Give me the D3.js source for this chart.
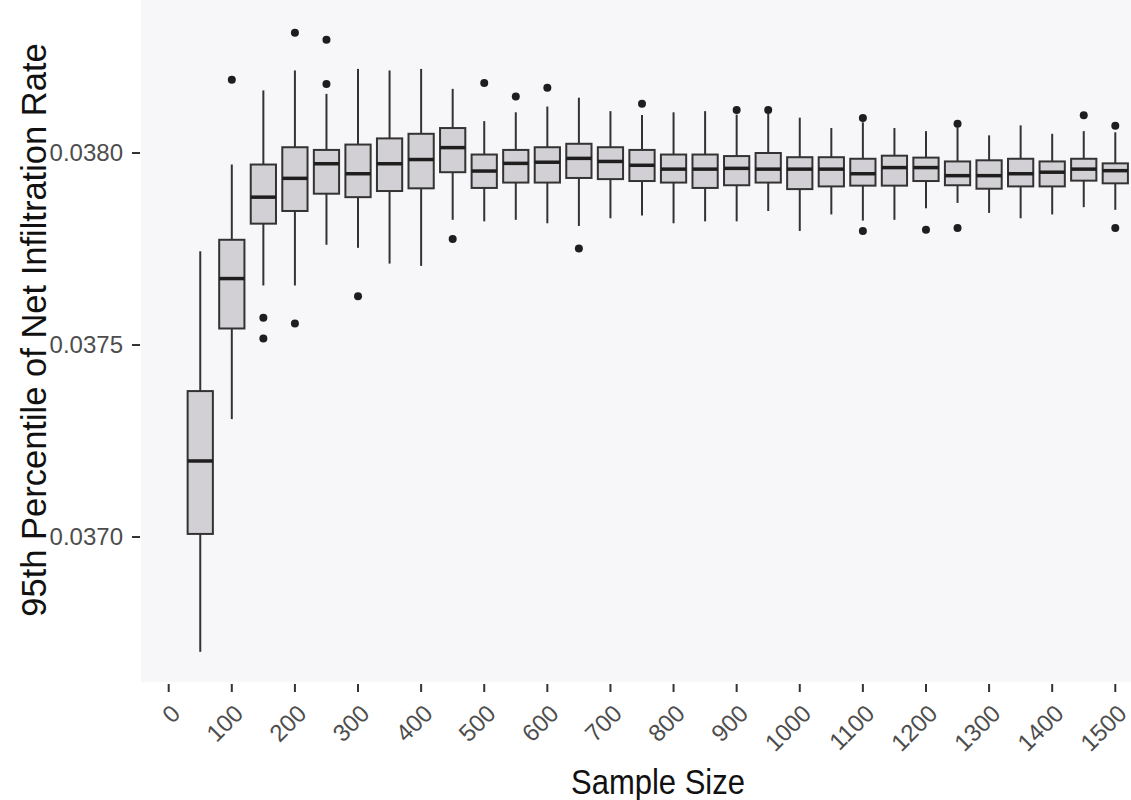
<!DOCTYPE html>
<html><head><meta charset="utf-8">
<script src="https://cdn.jsdelivr.net/npm/d3@7"></script>
<style>body{margin:0;background:#fff}svg{display:block}text{font-family:"Liberation Sans",Arial,sans-serif}</style>
</head><body><svg id="c" width="1131" height="800"></svg>
<script>
const sampleSizes = [50,100,150,200,250,300,350,400,450,500,550,600,650,700,750,800,850,900,950,1000,1050,1100,1150,1200,1250,1300,1350,1400,1450,1500];
const lowerWhisker = [0.036701,0.037307,0.037655,0.037655,0.037761,0.037753,0.037712,0.037706,0.037826,0.037822,0.037826,0.037817,0.037810,0.037830,0.037837,0.037817,0.037822,0.037822,0.037849,0.037797,0.037840,0.037824,0.037826,0.037856,0.037870,0.037844,0.037830,0.037840,0.037859,0.037852];
const q1Values = [0.037008,0.037543,0.037816,0.037849,0.037894,0.037885,0.037901,0.037908,0.037950,0.037909,0.037923,0.037923,0.037935,0.037932,0.037927,0.037923,0.037909,0.037916,0.037923,0.037906,0.037913,0.037915,0.037915,0.037927,0.037916,0.037907,0.037913,0.037913,0.037928,0.037921];
const medianValues = [0.037198,0.037673,0.037885,0.037934,0.037972,0.037946,0.037972,0.037983,0.038014,0.037953,0.037973,0.037976,0.037986,0.037978,0.037968,0.037958,0.037958,0.037960,0.037958,0.037958,0.037958,0.037946,0.037962,0.037962,0.037941,0.037941,0.037946,0.037950,0.037958,0.037954];
const q3Values = [0.037380,0.037774,0.037970,0.038015,0.038008,0.038022,0.038038,0.038050,0.038065,0.037996,0.038008,0.038015,0.038024,0.038015,0.038008,0.037996,0.037996,0.037992,0.038000,0.037989,0.037989,0.037985,0.037993,0.037988,0.037978,0.037981,0.037985,0.037978,0.037985,0.037973];
const upperWhisker = [0.037744,0.037970,0.038163,0.038215,0.038154,0.038219,0.038215,0.038219,0.038167,0.038083,0.038106,0.038121,0.038144,0.038109,0.038099,0.038106,0.038109,0.038100,0.038102,0.038092,0.038065,0.038080,0.038065,0.038057,0.038067,0.038046,0.038072,0.038050,0.038057,0.038054];
const outlierValues = [[],[0.038191],[0.037571,0.037517],[0.038313,0.037556],[0.038295,0.038180],[0.037627],[],[],[0.037776],[0.038182],[0.038147],[0.038170],[0.037751],[],[0.038128],[],[],[0.038112],[0.038112],[],[],[0.038091,0.037797],[],[0.037800],[0.038076,0.037805],[],[],[],[0.038098],[0.038071,0.037805]];
const xTicks = [0,100,200,300,400,500,600,700,800,900,1000,1100,1200,1300,1400,1500];
const yTicks = [0.0370,0.0375,0.0380];
const xTitle = "Sample Size";
const yTitle = "95th Percentile of Net Infiltration Rate";

const svg = d3.select("#c");
const x = d3.scaleLinear().domain([0,1500]).range([168.7,1115.3]);
const y = d3.scaleLinear().domain([0.0370,0.0380]).range([537,153]);
const halfW = 20; // data units

svg.append("rect").attr("x",141).attr("y",0).attr("width",990).attr("height",682).attr("fill","#f7f7fa");

const data = sampleSizes.map((s,i)=>({s,lo:lowerWhisker[i],q1:q1Values[i],med:medianValues[i],q3:q3Values[i],hi:upperWhisker[i],out:outlierValues[i]}));
const stroke = "#333333";
const g = svg.append("g");
const box = g.selectAll("g.box").data(data).join("g").attr("class","box");
box.append("line").attr("x1",d=>x(d.s)).attr("x2",d=>x(d.s)).attr("y1",d=>y(d.hi)).attr("y2",d=>y(d.q3)).attr("stroke",stroke).attr("stroke-width",2);
box.append("line").attr("x1",d=>x(d.s)).attr("x2",d=>x(d.s)).attr("y1",d=>y(d.q1)).attr("y2",d=>y(d.lo)).attr("stroke",stroke).attr("stroke-width",2);
box.append("rect").attr("x",d=>x(d.s-halfW)).attr("width",d=>x(d.s+halfW)-x(d.s-halfW))
  .attr("y",d=>y(d.q3)).attr("height",d=>y(d.q1)-y(d.q3))
  .attr("fill","#d2d0d4").attr("stroke",stroke).attr("stroke-width",2);
box.append("line").attr("x1",d=>x(d.s-halfW)).attr("x2",d=>x(d.s+halfW)).attr("y1",d=>y(d.med)).attr("y2",d=>y(d.med)).attr("stroke","#1e1e1e").attr("stroke-width",3.5);
box.selectAll("circle").data(d=>d.out.map(v=>({s:d.s,v}))).join("circle")
  .attr("cx",d=>x(d.s)).attr("cy",d=>y(d.v)).attr("r",4).attr("fill","#1e1e1e");

// y axis
const yAxis = svg.append("g");
yAxis.selectAll("line").data(yTicks).join("line").attr("x1",132).attr("x2",140).attr("y1",d=>y(d)).attr("y2",d=>y(d)).attr("stroke","#333").attr("stroke-width",2);
yAxis.selectAll("text").data(yTicks).join("text").attr("x",123).attr("y",d=>y(d)).attr("dy","0.35em").attr("text-anchor","end")
  .attr("font-size",24).attr("fill","#4d4d4d").text(d=>d3.format(".4f")(d));

// x axis
const xAxis = svg.append("g");
xAxis.selectAll("line").data(xTicks).join("line").attr("x1",d=>x(d)).attr("x2",d=>x(d)).attr("y1",684).attr("y2",692).attr("stroke","#333").attr("stroke-width",2);
xAxis.selectAll("text").data(xTicks).join("text")
  .attr("transform",d=>`translate(${x(d)+7},709) rotate(-45)`).attr("dy","0.35em").attr("text-anchor","end")
  .attr("font-size",24).attr("fill","#4d4d4d").text(d=>d);

svg.append("text").attr("x",658).attr("y",794).attr("text-anchor","middle").attr("font-size",31).attr("fill","#111")
  .attr("transform","translate(658,794) scale(1,1.12) translate(-658,-794)").text(xTitle);
svg.append("text").attr("transform","translate(46,330) rotate(-90)").attr("text-anchor","middle").attr("font-size",34.5).attr("fill","#111").text(yTitle);
</script></body></html>
